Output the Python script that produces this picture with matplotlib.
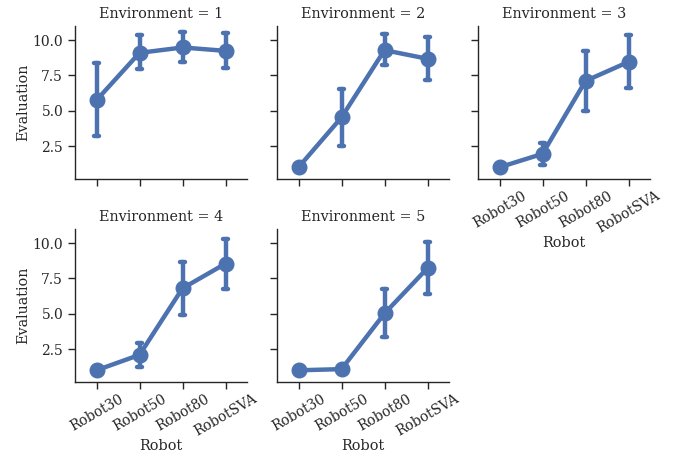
import matplotlib
matplotlib.use("Agg")
import matplotlib.pyplot as plt
import numpy as np

robots = ["Robot30", "Robot50", "Robot80", "RobotSVA"]
environments = [1, 2, 3, 4, 5]

# mean evaluation per robot, one list per environment
env1 = [5.75, 9.1, 9.48, 9.24]
env2 = [1.0, 4.53, 9.29, 8.68]
env3 = [1.0, 1.95, 7.11, 8.46]
env4 = [1.0, 2.09, 6.8, 8.55]
env5 = [1.0, 1.08, 5.02, 8.23]

# confidence interval bounds (None = no interval drawn)
env1_lo = [3.23, 7.95, 8.47, 8.0]
env1_hi = [8.35, 10.35, 10.54, 10.52]
env2_lo = [None, 2.5, 8.21, 7.17]
env2_hi = [None, 6.53, 10.4, 10.24]
env3_lo = [None, 1.19, 4.98, 6.61]
env3_hi = [None, 2.73, 9.22, 10.36]
env4_lo = [None, 1.26, 4.9, 6.74]
env4_hi = [None, 2.96, 8.66, 10.3]
env5_lo = [None, None, 3.32, 6.39]
env5_hi = [None, None, 6.74, 10.07]

means = [env1, env2, env3, env4, env5]
lows = [env1_lo, env2_lo, env3_lo, env4_lo, env5_lo]
highs = [env1_hi, env2_hi, env3_hi, env4_hi, env5_hi]

color = "#4C72B0"
fs = 10.4
plt.rcParams["font.family"] = ["DejaVu Serif"]
plt.rcParams["font.size"] = fs
plt.rcParams["axes.edgecolor"] = "#262626"
plt.rcParams["text.color"] = "#262626"
plt.rcParams["axes.labelcolor"] = "#262626"
plt.rcParams["xtick.color"] = "#262626"
plt.rcParams["ytick.color"] = "#262626"

W, H = 675, 453
fig = plt.figure(figsize=(W / 100, H / 100), dpi=100)

lefts = [75, 277, 478]
tops = [26, 229]
aw, ah = 172, 153

axes = []
for i, env in enumerate(environments):
    r, c = divmod(i, 3)
    rect = [lefts[c] / W, 1 - (tops[r] + ah) / H, aw / W, ah / H]
    ax = fig.add_axes(rect, sharey=axes[0] if axes else None)
    axes.append(ax)
    x = np.arange(len(robots))
    for k in range(len(robots)):
        if lows[i][k] is None:
            continue
        ax.plot([x[k], x[k]], [lows[i][k], highs[i][k]], color=color, lw=3.2,
                solid_capstyle="round", zorder=2)
        for v in (lows[i][k], highs[i][k]):
            ax.plot([x[k] - 0.05, x[k] + 0.05], [v, v], color=color, lw=3.2,
                    solid_capstyle="round", zorder=2)
    ax.plot(x, means[i], color=color, lw=3.2, marker="o", ms=10.5,
            solid_capstyle="round", zorder=3)
    ax.set_title("Environment = %d" % env, fontsize=fs)
    ax.set_xlim(-0.5, 3.5)
    ax.set_ylim(0.17, 11.0)
    ax.set_yticks([2.5, 5.0, 7.5, 10.0])
    ax.set_xticks(x)
    ax.spines["top"].set_visible(False)
    ax.spines["right"].set_visible(False)
    ax.tick_params(length=5, width=1, labelsize=10)
    ax.tick_params(axis="x", pad=2)
    for s in ("left", "bottom"):
        ax.spines[s].set_linewidth(1)
    # x labels only on the bottom of each column
    if i in (2, 3, 4):
        ax.set_xticklabels(robots, rotation=30)
        ax.set_xlabel("Robot", labelpad=0)
    else:
        ax.set_xticklabels([])
    if c == 0:
        ax.set_ylabel("Evaluation", labelpad=2)
        ax.yaxis.set_major_formatter(matplotlib.ticker.FormatStrFormatter("%.1f"))
    else:
        ax.tick_params(labelleft=False)

fig.savefig("out.png", dpi=100)
